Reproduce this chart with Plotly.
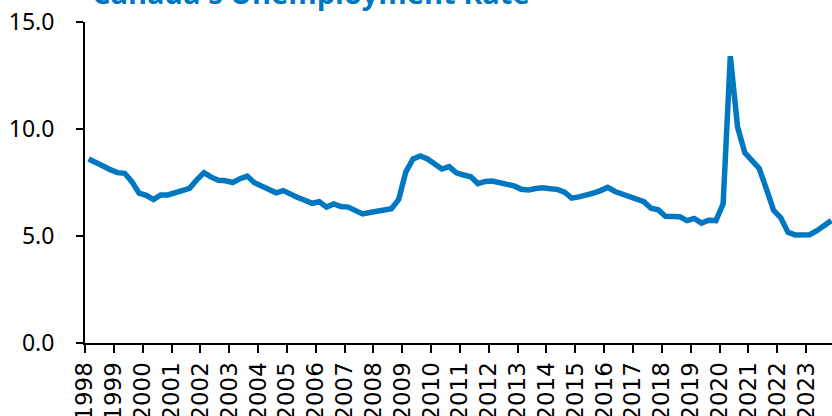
import plotly.graph_objects as go

# Quarterly unemployment rate (%), 1998Q1 .. 2023Q4
years = list(range(1998, 2024))
tick_labels = [str(y) for y in years]
quarters = ["Q1", "Q2", "Q3", "Q4"]
rate = [
    8.6, 8.4, 8.27, 8.1,      # 1998
    7.96, 7.93, 7.54, 7.0,    # 1999
    6.9, 6.7, 6.92, 6.92,     # 2000
    7.02, 7.1, 7.23, 7.62,    # 2001
    7.96, 7.75, 7.6, 7.58,    # 2002
    7.5, 7.68, 7.8, 7.49,     # 2003
    7.32, 7.18, 7.02, 7.12,   # 2004
    6.93, 6.8, 6.67, 6.53,    # 2005
    6.6, 6.35, 6.5, 6.38,     # 2006
    6.35, 6.22, 6.03, 6.1,    # 2007
    6.15, 6.2, 6.27, 6.7,     # 2008
    8.0, 8.6, 8.74, 8.6,      # 2009
    8.4, 8.13, 8.24, 7.95,    # 2010
    7.85, 7.77, 7.45, 7.55,   # 2011
    7.57, 7.5, 7.42, 7.34,    # 2012
    7.18, 7.15, 7.22, 7.25,   # 2013
    7.21, 7.18, 7.05, 6.77,   # 2014
    6.83, 6.9, 7.0, 7.12,     # 2015
    7.27, 7.08, 6.97, 6.88,   # 2016
    6.75, 6.6, 6.3, 6.22,     # 2017
    5.92, 5.9, 5.9, 5.72,     # 2018
    5.82, 5.6, 5.74, 5.72,    # 2019
    6.5, 13.4, 10.1, 8.9,     # 2020
    8.5, 8.16, 7.2, 6.2,      # 2021
    5.85, 5.17, 5.05, 5.06,   # 2022
    5.06, 5.25, 5.5, 5.72,    # 2023
]
# quarter positions (mid-quarter)
xq = [y + (qi + 0.5) / 4 for y in years for qi in range(4)]

y_ticks = [0, 5, 10, 15]
title_text = "Canada's Unemployment Rate"
blue = "#0078C1"

fig = go.Figure()
fig.add_trace(go.Scatter(
    x=xq, y=rate, mode="lines",
    line=dict(color=blue, width=5.5),
    showlegend=False, hoverinfo="skip",
))

fig.update_layout(
    width=832, height=416,
    margin=dict(l=85, r=0, t=22, b=73),
    paper_bgcolor="white", plot_bgcolor="white",
    showlegend=False,
)

fig.update_xaxes(
    range=[1998, 2023.9],
    tickmode="array", tickvals=years, ticktext=tick_labels,
    tickangle=-90,
    ticks="outside", ticklen=8, tickwidth=2, tickcolor="black",
    showline=True, linecolor="black", linewidth=2,
    showgrid=False, zeroline=False, automargin=False,
    tickfont=dict(family="DejaVu Sans", size=23, color="black"),
    ticklabelstandoff=0,
)
fig.update_yaxes(
    range=[0, 15],
    tickmode="array", tickvals=y_ticks, tickformat=".1f",
    ticks="outside", ticklen=7, tickwidth=2, tickcolor="black",
    showline=True, linecolor="black", linewidth=2,
    showgrid=False, zeroline=False, automargin=False,
    tickfont=dict(family="Noto Sans", size=23, color="black"),
    ticklabelstandoff=17,
)

fig.add_annotation(
    text="<b>" + title_text + "</b>",
    xref="paper", yref="paper", x=0.007, y=1.025,
    xanchor="left", yanchor="bottom", showarrow=False,
    font=dict(family="Open Sans", size=29, color=blue),
)

fig.write_html(
    "out.html",
    config={"displayModeBar": False},
    post_script="document.body.style.margin='0';document.body.style.overflow='hidden';",
)
